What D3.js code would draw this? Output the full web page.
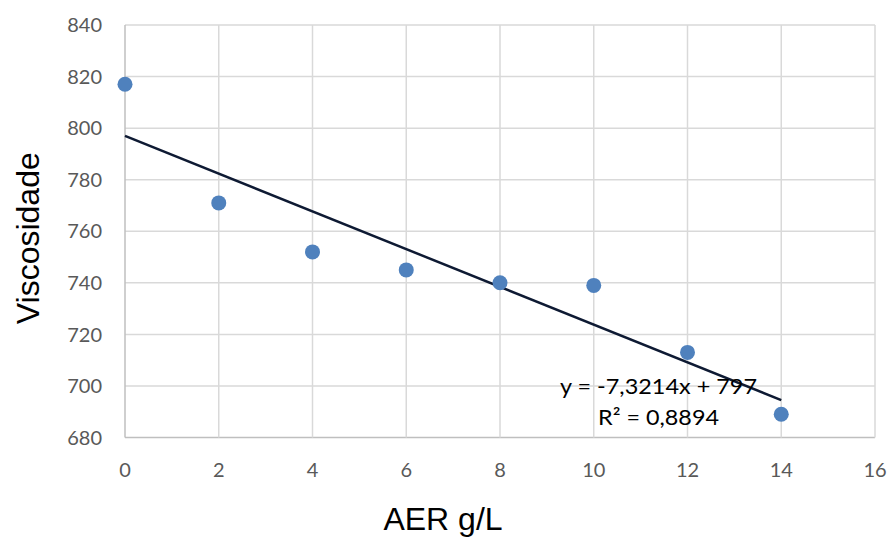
<!DOCTYPE html>
<html>
<head>
<meta charset="utf-8">
<script src="https://cdn.jsdelivr.net/npm/d3@7"></script>
<style>
body { margin: 0; background: #fff; }
svg text { font-family: Lato, Carlito, "Open Sans", sans-serif; }
</style>
</head>
<body>
<div id="chart"></div>
<script>
// data
var aer = [0, 2, 4, 6, 8, 10, 12, 14];
var viscosidade = [817, 771, 752, 745, 740, 739, 713, 689];
var xTicks = [0, 2, 4, 6, 8, 10, 12, 14, 16];
var yTicks = [680, 700, 720, 740, 760, 780, 800, 820, 840];
var eqLines = ["y = -7,3214x + 797", "R² = 0,8894"];

var width = 889, height = 537;
var margin = {top: 25, right: 14, bottom: 100, left: 125};

var svg = d3.select("#chart").append("svg")
    .attr("width", width)
    .attr("height", height);

var x = d3.scaleLinear().domain([0, 16]).range([margin.left, width - margin.right]);
var y = d3.scaleLinear().domain([680, 840]).range([height - margin.bottom + 0.5, margin.top]);

// gridlines
svg.append("g").selectAll("line.h")
    .data(yTicks)
  .enter().append("line")
    .attr("x1", x(0)).attr("x2", x(16))
    .attr("y1", function(d) { return y(d); })
    .attr("y2", function(d) { return y(d); })
    .style("stroke", function(d) { return d == 680 ? "#bfbfbf" : "#d9d9d9"; })
    .style("stroke-width", 1.5);

svg.append("g").selectAll("line.v")
    .data(xTicks)
  .enter().append("line")
    .attr("y1", y(680)).attr("y2", y(840))
    .attr("x1", function(d) { return x(d); })
    .attr("x2", function(d) { return x(d); })
    .style("stroke", function(d) { return d == 0 ? "#bfbfbf" : "#d9d9d9"; })
    .style("stroke-width", 1.5);

// tick labels
svg.append("g").selectAll("text")
    .data(yTicks)
  .enter().append("text")
    .attr("x", x(0) - 23)
    .attr("y", function(d) { return y(d); })
    .attr("dy", "0.36em")
    .attr("text-anchor", "end")
    .style("font-size", "20px")
    .style("fill", "#595959")
    .text(function(d) { return d; });

svg.append("g").selectAll("text")
    .data(xTicks)
  .enter().append("text")
    .attr("x", function(d) { return x(d); })
    .attr("y", y(680) + 39)
    .attr("text-anchor", "middle")
    .style("font-size", "20px")
    .style("fill", "#595959")
    .text(function(d) { return d; });

// trendline from least squares
var mx = d3.mean(aer), my = d3.mean(viscosidade);
var sxy = d3.sum(aer, function(d, i) { return (d - mx) * (viscosidade[i] - my); });
var sxx = d3.sum(aer, function(d) { return (d - mx) * (d - mx); });
var slope = sxy / sxx, intercept = my - slope * mx;

svg.append("line")
    .attr("x1", x(0)).attr("y1", y(intercept))
    .attr("x2", x(14)).attr("y2", y(intercept + slope * 14))
    .style("stroke", "#0e1a33")
    .style("stroke-width", 2.5);

// points
svg.append("g").selectAll("circle")
    .data(aer)
  .enter().append("circle")
    .attr("cx", function(d) { return x(d); })
    .attr("cy", function(d, i) { return y(viscosidade[i]); })
    .attr("r", 7.5)
    .style("fill", "#4f81bd");

// equation label
svg.append("text")
    .attr("x", 560).attr("y", 394)
    .attr("textLength", 197)
    .attr("lengthAdjust", "spacingAndGlyphs")
    .style("font-size", "22px")
    .style("fill", "#000")
    .text(eqLines[0]);
svg.append("text")
    .attr("x", 598).attr("y", 425)
    .attr("textLength", 121)
    .attr("lengthAdjust", "spacingAndGlyphs")
    .style("font-size", "22px")
    .style("fill", "#000")
    .text(eqLines[1]);

// axis titles
svg.append("text")
    .attr("transform", "translate(39," + ((y(680) + y(840)) / 2 + 7) + ") rotate(-90)")
    .attr("text-anchor", "middle")
    .style("font-family", "'Liberation Sans', Arial, sans-serif")
    .style("font-size", "32px")
    .text("Viscosidade");

svg.append("text")
    .attr("x", 443).attr("y", 530)
    .attr("text-anchor", "middle")
    .style("font-family", "'Liberation Sans', Arial, sans-serif")
    .style("font-size", "32px")
    .text("AER g/L");
</script>
</body>
</html>
